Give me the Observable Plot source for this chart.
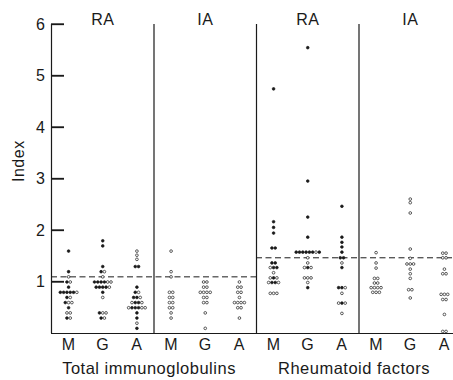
<!DOCTYPE html>
<html>
<head>
<meta charset="utf-8">
<script src="https://cdn.jsdelivr.net/npm/d3@7"></script>
<script src="https://cdn.jsdelivr.net/npm/@observablehq/plot@0.6"></script>
<style>
  html, body { margin: 0; padding: 0; background: #fff; }
  svg text { letter-spacing: 0.5px; }
</style>
</head>
<body>
<div id="chart"></div>
<script>
// ---- data ----
const panels = ["RA", "IA", "RA", "IA"];
const groups = ["Total immunoglobulins", "Rheumatoid factors"];
const classes = ["M", "G", "A"];
const yTicks = [1, 2, 3, 4, 5, 6];
const refValues = [1.1, 1.47]; // dashed reference level per group

// rows: [index value, markers at that value] (● = filled, ○ = open)
const raTotalM = [[1.6,"●"],[1.2,"●"],[1.1,"○"],[1.0,"●○"],[0.9,"●"],[0.8,"●●●●●○"],[0.7,"●○"],[0.6,"●○○"],[0.5,"●"],[0.4,"○○"],[0.3,"●○"]];
const raTotalG = [[1.8,"●"],[1.7,"●"],[1.3,"●"],[1.2,"●○"],[1.1,"○"],[1.0,"●●●●○○"],[0.9,"●●●●○"],[0.8,"●"],[0.7,"○"],[0.4,"●○○"],[0.3,"●○"]];
const raTotalA = [[1.6,"○"],[1.52,"○"],[1.44,"○"],[1.3,"●●"],[0.9,"●"],[0.8,"●○"],[0.7,"●●○"],[0.6,"○●●○"],[0.5,"○●●●○○"],[0.4,"●"],[0.3,"●"],[0.2,"○"],[0.1,"●"]];

const iaTotalM = [[1.6,"○"],[1.2,"○"],[1.1,"○"],[0.8,"○○"],[0.7,"○○"],[0.6,"○○"],[0.5,"○○"],[0.4,"○"],[0.3,"○"]];
const iaTotalG = [[1.0,"○○"],[0.9,"○○"],[0.8,"○○○○"],[0.7,"○○"],[0.6,"○○"],[0.4,"○"],[0.1,"○"]];
const iaTotalA = [[1.0,"○"],[0.9,"○○"],[0.8,"○○"],[0.7,"○"],[0.6,"○○○○"],[0.5,"○○"],[0.3,"○"]];

const raRfM = [[4.75,"●"],[2.17,"●"],[2.06,"●"],[1.95,"●"],[1.66,"●●"],[1.37,"●●"],[1.28,"○●●"],[1.18,"○"],[1.08,"○●○"],[0.99,"○●●○"],[0.78,"○○○"]];
const raRfG = [[5.55,"●"],[2.96,"●"],[2.26,"●"],[1.87,"●"],[1.58,"●●●●●●○●"],[1.47,"○"],[1.37,"○"],[1.28,"○●○"],[1.08,"○○○"],[0.99,"○"],[0.89,"●"]];
const raRfA = [[2.47,"●"],[1.87,"●"],[1.77,"●"],[1.68,"●"],[1.58,"●"],[1.47,"●●"],[1.37,"○"],[1.28,"●"],[0.89,"●●○"],[0.78,"○"],[0.59,"○●○"],[0.39,"○"]];

const iaRfM = [[1.57,"○"],[1.37,"○"],[1.27,"○"],[1.07,"○○"],[0.98,"○○"],[0.89,"○○○○"],[0.8,"○○○"]];
const iaRfG = [[2.61,"○"],[2.54,"○"],[2.34,"○"],[1.64,"○"],[1.46,"○"],[1.35,"○○○"],[1.25,"○"],[1.16,"○"],[1.07,"○"],[0.85,"○○"],[0.69,"○"]];
const iaRfA = [[1.56,"○○"],[1.47,"○○"],[1.25,"○"],[1.16,"○○"],[0.76,"○○○"],[0.66,"○○"],[0.37,"○"],[0.04,"○○"]];

// ---- build point table ----
const columnRows = [
  [raTotalM, raTotalG, raTotalA],
  [iaTotalM, iaTotalG, iaTotalA],
  [raRfM, raRfG, raRfA],
  [iaRfM, iaRfG, iaRfA]
];
const xRange = [51, 461];
const xDomain = [0, 12];
const pxPerUnit = (xRange[1] - xRange[0]) / (xDomain[1] - xDomain[0]);
const pitch = 3.3 / pxPerUnit;      // spacing of tied points
const tickLen = 13 / pxPerUnit;     // inward tick length
const points = [];
columnRows.forEach((cols, p) => cols.forEach((rows, c) => rows.forEach(([v, pattern]) => {
  const marks = [...pattern];
  const n = marks.length;
  marks.forEach((m, i) => points.push({
    x: p * 3 + c + 0.5 + (i - (n - 1) / 2) * pitch,
    y: v,
    filled: m === "●"
  }));
})));
const refs = refValues.map((v, i) => ({value: v, x1: i * 6, x2: i * 6 + 6}));
const tickRows = yTicks.map(t => ({value: t, x1: 0, x2: tickLen}));
const catTicks = d3.range(12).map(i => i + 0.5);

const ink = "#1a1a1a";

const chart = Plot.plot({
  width: 453,
  height: 380,
  marginTop: 24,
  marginBottom: 47,
  marginLeft: 51,
  marginRight: 0,
  style: {fontFamily: "'Liberation Sans', Arial, sans-serif", color: ink, background: "white"},
  x: {domain: xDomain, range: xRange},
  y: {domain: [0, 6]},
  marks: [
    Plot.ruleY([0], {stroke: ink, strokeWidth: 1.2}),
    Plot.ruleX([0, 3, 6, 9], {stroke: ink, strokeWidth: 1.2}),
    Plot.ruleY(refs, {y: "value", x1: "x1", x2: "x2", stroke: ink, strokeWidth: 1, strokeDasharray: "6,3.5"}),
    Plot.ruleY(tickRows, {y: "value", x1: "x1", x2: "x2", stroke: ink, strokeWidth: 1.3}),
    Plot.dot(points, {x: "x", y: "y", r: 1.35, fill: d => d.filled ? ink : "white", stroke: ink, strokeWidth: 0.7}),
    Plot.axisY({ticks: yTicks, tickFormat: d => String(d), tickSize: 0, tickPadding: 6, fontSize: 16, label: null}),
    Plot.axisX({ticks: catTicks, tickFormat: d => classes[Math.floor(d) % 3], tickSize: 0, tickPadding: 5, fontSize: 16, label: null}),
    Plot.text(panels, {x: (d, i) => i * 3 + 1.5, text: d => d, frameAnchor: "top", dy: -11, fontSize: 16}),
    Plot.text(groups, {x: (d, i) => i * 6 + 3, text: d => d, frameAnchor: "bottom", dy: 40, dx: -5, lineAnchor: "bottom", fontSize: 16.5}),
    Plot.text(["Index"], {text: d => d, frameAnchor: "left", rotate: -90, dx: -33, dy: 3, fontSize: 16})
  ]
});

// inward y-axis ticks, positioned with the chart's own scales
const sx = chart.scale("x"), sy = chart.scale("y");
d3.select(chart).append("g")
  .attr("stroke", ink)
  .attr("stroke-width", 1.3)
  .selectAll("line")
  .data(yTicks)
  .join("line")
  .attr("x1", sx.apply(0))
  .attr("x2", sx.apply(tickLen))
  .attr("y1", d => sy.apply(d))
  .attr("y2", d => sy.apply(d));

document.getElementById("chart").appendChild(chart);
</script>
</body>
</html>
